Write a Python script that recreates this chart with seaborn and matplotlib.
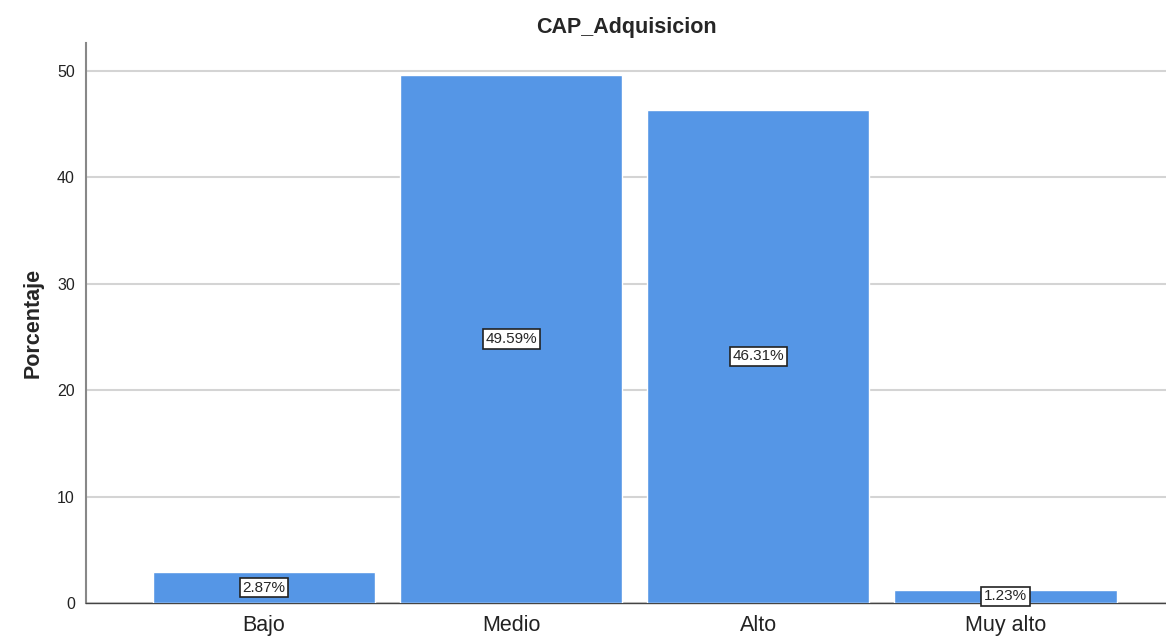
import pandas as pd
import seaborn as sns
import matplotlib.pyplot as plt

# Data
categorias = ["Bajo", "Medio", "Alto", "Muy alto"]
porcentajes = [2.87, 49.59, 46.31, 1.23]
df = pd.DataFrame({"CAP_Adquisicion": categorias, "Porcentaje": porcentajes})

sns.set_style("white")
plt.rcParams['font.family'] = ['Liberation Sans', 'DejaVu Sans']

fig = plt.figure(figsize=(11.66, 6.37), dpi=100)
ax = fig.add_axes([0.0738, 0.0534, 0.9262, 0.8791])

sns.barplot(data=df, x="CAP_Adquisicion", y="Porcentaje", color="#5596E6",
            saturation=1, width=0.9, ax=ax, zorder=3)

# Labels in the middle of each bar
for i, v in enumerate(porcentajes):
    ax.text(i, v / 2, f"{v:.2f}%", ha="center", va="center", fontsize=11,
            zorder=4, bbox=dict(boxstyle="square,pad=0.18", fc="white",
                                ec="#222222", lw=1.2))

ax.set_xlim(-0.72, 3.65)
ax.set_ylim(0, 52.6)
ax.set_yticks([0, 10, 20, 30, 40, 50])
ax.yaxis.grid(True, color="#D4D4D4", lw=1.5, zorder=0)
ax.set_axisbelow(True)

for s in ["top", "right"]:
    ax.spines[s].set_visible(False)
ax.spines["left"].set_color("#888888")
ax.spines["left"].set_linewidth(1.5)
ax.spines["bottom"].set_color("#444444")
ax.spines["bottom"].set_linewidth(1.0)

ax.tick_params(axis="y", labelsize=11.5, length=0, pad=8, labelcolor="#222222")
ax.tick_params(axis="x", labelsize=15.5, length=0, pad=9, labelcolor="#222222")

ax.set_xlabel("")
ax.set_ylabel("Porcentaje", fontsize=15.5, fontweight="bold", labelpad=10)
ax.set_title("CAP_Adquisicion", fontsize=15.5, fontweight="bold", pad=7)

fig.savefig("out.png", dpi=100)
